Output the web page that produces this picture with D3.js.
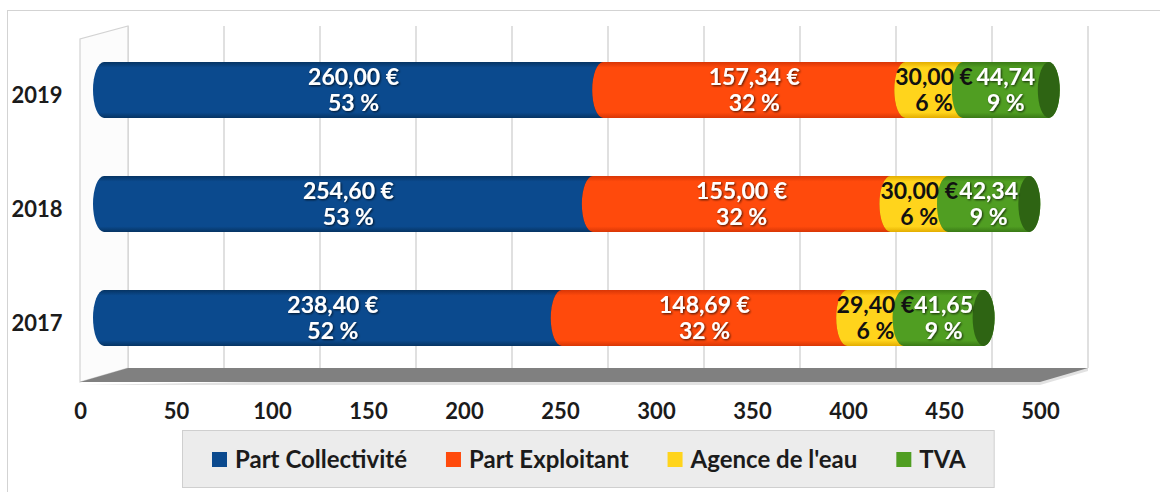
<!DOCTYPE html>
<html>
<head>
<meta charset="utf-8">
<script src="https://cdn.jsdelivr.net/npm/d3@7"></script>
<style>
  body{margin:0;background:#fff;}
  svg{display:block;font-family:Lato, "Open Sans", sans-serif;}
</style>
</head>
<body>
<div id="container"></div>
<script>
// data
let years = ["2019", "2018", "2017"];
let seriesNames = ["Part Collectivité", "Part Exploitant", "Agence de l'eau", "TVA"];
let partCollectivite = [260.00, 254.60, 238.40];
let partExploitant = [157.34, 155.00, 148.69];
let agenceEau = [30.00, 30.00, 29.40];
let tva = [44.74, 42.34, 41.65];
let tickValues = [0, 50, 100, 150, 200, 250, 300, 350, 400, 450, 500];

let allSeries = [partCollectivite, partExploitant, agenceEau, tva];

// colours: body, edge, end face, label colour
let colors = [
  {body:"#0b4a8e", edge:"#063463", face:"#05305c", text:"#fff"},
  {body:"#ff4a0c", edge:"#d83606", face:"#c23004", text:"#fff"},
  {body:"#ffd41c", edge:"#e3ad00", face:"#d29e00", text:"#111"},
  {body:"#509e22", edge:"#3a7a16", face:"#2e6413", text:"#fff"}
];

let w = 1160;
let h = 492;

let viz = d3.select("#container")
  .append("svg")
    .attr("width", w)
    .attr("height", h)
;

let defs = viz.append("defs");
colors.forEach(function(c, i){
  let g = defs.append("linearGradient").attr("id", "grad"+i)
    .attr("x1", 0).attr("y1", 0).attr("x2", 0).attr("y2", 1);
  g.append("stop").attr("offset", "0%").attr("stop-color", c.edge);
  g.append("stop").attr("offset", "10%").attr("stop-color", c.body);
  g.append("stop").attr("offset", "90%").attr("stop-color", c.body);
  g.append("stop").attr("offset", "100%").attr("stop-color", c.edge);
});
let shadow = defs.append("filter").attr("id", "shadow")
  .attr("x", "-10%").attr("y", "-20%").attr("width", "130%").attr("height", "150%");
shadow.append("feDropShadow").attr("dx", 1).attr("dy", 1)
  .attr("stdDeviation", 0.8).attr("flood-color", "#000").attr("flood-opacity", 0.75);

// outer frame
viz.append("rect")
  .attr("x", 7.5).attr("y", 10.5).attr("width", w).attr("height", h)
  .attr("fill", "none").attr("stroke", "#d3d3d3");

// 3d layout: front plane, back wall and the bars half way in between
let depthX = 48, depthY = 14;
let floorY = 382;
let wallTop = 26;
let xFront = d3.scaleLinear().domain([0, 500]).range([80, 1040]);
let xBack = d3.scaleLinear().domain([0, 500]).range([80+depthX, 1040+depthX]);
let xBar = d3.scaleLinear().domain([0, 500]).range([80+depthX/2, 1040+depthX/2]);
let yScale = d3.scalePoint().domain(years).range([33, 375]).padding(0.5);
let barH = 56;
let capRx = 11;

// back wall gridlines
viz.append("g").selectAll("line").data(tickValues).enter()
  .append("line")
    .attr("x1", d=>xBack(d)).attr("x2", d=>xBack(d))
    .attr("y1", wallTop).attr("y2", floorY-depthY)
    .attr("stroke", "#d6d6d6").attr("stroke-width", 1.5)
;

// left side wall
viz.append("path")
  .attr("d", "M"+xFront(0)+","+(floorY)+" L"+xFront(0)+","+(wallTop+depthY-1)
    +" L"+xBack(0)+","+wallTop+" L"+xBack(0)+","+(floorY-depthY)+" Z")
  .attr("fill", "#fcfcfc").attr("stroke", "#d3d3d3").attr("stroke-width", 1.2);

// floor
viz.append("path")
  .attr("d", "M"+xFront(0)+","+(floorY+3)+" L"+xFront(500)+","+(floorY+3)
    +" L"+xBack(500)+","+(floorY-depthY+3)+" L"+xBack(500)+","+(floorY-depthY)+" Z")
  .attr("fill", "#e2e2e2");
viz.append("path")
  .attr("d", "M"+xFront(0)+","+floorY+" L"+xFront(500)+","+floorY
    +" L"+xBack(500)+","+(floorY-depthY)+" L"+xBack(0)+","+(floorY-depthY)+" Z")
  .attr("fill", "#808080");

// x axis in front of the floor
let xAxis = d3.axisBottom(xFront).tickValues(tickValues).tickSize(0).tickPadding(0);
let xAxisGroup = viz.append("g").classed("xAxis", true)
  .attr("transform", "translate(0,403)")
  .call(xAxis);
xAxisGroup.select(".domain").remove();
xAxisGroup.selectAll("text")
  .attr("font-size", 22).attr("font-weight", 700)
  .attr("fill", "#1b1b1b").attr("font-family", "Lato, sans-serif");

// year labels
viz.append("g").selectAll("text").data(years).enter()
  .append("text")
    .attr("x", 37).attr("y", d=>yScale(d)+13)
    .attr("text-anchor", "middle")
    .attr("font-size", 22).attr("font-weight", 700).attr("fill", "#1b1b1b")
    .text(d=>d)
;

function fmt(v){
  return v.toFixed(2).replace(".", ",");
}

// stacked cylinders
let graphGroup = viz.append("g").classed("graphGroup", true);
years.forEach(function(year, yi){
  let total = d3.sum(allSeries, s=>s[yi]);
  let cy = yScale(year);
  let r = barH/2;
  let start = 0;
  let segs = allSeries.map(function(s, si){
    let seg = {si: si, v0: start, v1: start + s[yi], value: s[yi], pct: Math.round(s[yi]/total*100)};
    start += s[yi];
    return seg;
  });
  let group = graphGroup.append("g").classed("datapoint", true);
  segs.forEach(function(seg){
    let x0 = xBar(seg.v0), x1 = xBar(seg.v1);
    group.append("path")
      .attr("d", "M"+x0+","+(cy-r)+" L"+x1+","+(cy-r)
        +" A"+capRx+","+r+" 0 0 1 "+x1+","+(cy+r)
        +" L"+x0+","+(cy+r)
        +" A"+capRx+","+r+" 0 0 1 "+x0+","+(cy-r)+" Z")
      .attr("fill", "url(#grad"+seg.si+")");
    group.append("ellipse")
      .attr("cx", x1).attr("cy", cy).attr("rx", capRx).attr("ry", r)
      .attr("fill", colors[seg.si].face);
  });
  segs.forEach(function(seg){
    let xm = (xBar(seg.v0) + xBar(seg.v1))/2;
    let c = colors[seg.si];
    let t = group.append("text")
      .attr("text-anchor", "middle")
      .attr("font-size", 23).attr("font-weight", 700)
      .attr("fill", c.text);
    if(c.text=="#fff"){ t.attr("filter", "url(#shadow)"); }
    // the TVA label is clipped in the original, its euro sign does not show
    let first = seg.si==3 ? fmt(seg.value) : fmt(seg.value)+" €";
    t.append("tspan").attr("x", xm).attr("y", cy-5).text(first);
    t.append("tspan").attr("x", xm).attr("y", cy+21).text(seg.pct+" %");
  });
});

// legend
let legend = viz.append("g").classed("legend", true);
let legendBox = legend.append("rect")
  .attr("fill", "#ececec").attr("stroke", "#cfcfcf");
let lx = 212;
seriesNames.forEach(function(name, i){
  legend.append("rect")
    .attr("x", lx).attr("y", 452).attr("width", 15).attr("height", 15)
    .attr("fill", colors[i].body);
  let t = legend.append("text")
    .attr("x", lx+23).attr("y", 468)
    .attr("font-size", 24).attr("font-weight", 700).attr("fill", "#1b1b1b")
    .text(name);
  lx = lx + 23 + t.node().getComputedTextLength() + 39;
});
legendBox.attr("x", 182.5).attr("y", 430.5).attr("width", lx-39+28-182).attr("height", 57);
</script>
</body>
</html>
